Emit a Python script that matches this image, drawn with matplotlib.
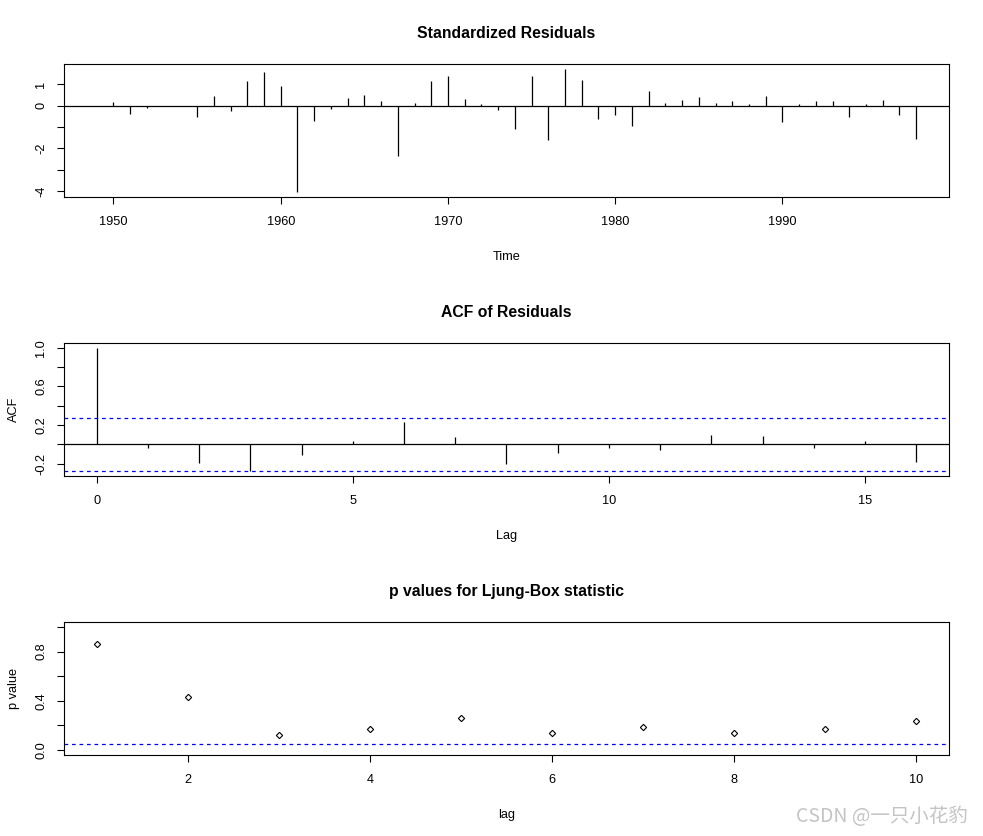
import numpy as np
import matplotlib
matplotlib.use("Agg")
from matplotlib import pyplot as plt

plt.rcParams['font.family'] = ['Liberation Sans', 'DejaVu Sans']

# standardized residuals, yearly
years = np.arange(1949, 1999)
resid = [0.0, 0.20, -0.37, -0.09, 0.01, -0.01, -0.51, 0.47, -0.23, 1.17,
         1.59, 0.93, -4.04, -0.70, -0.14, 0.37, 0.51, 0.23, -2.33, 0.11,
         1.17, 1.40, 0.33, 0.09, -0.19, -1.07, 1.40, -1.62, 1.73, 1.21,
         -0.61, -0.42, -0.93, 0.70, 0.14, 0.28, 0.42, 0.14, 0.23, 0.09,
         0.47, -0.75, 0.09, 0.23, 0.23, -0.51, 0.09, 0.28, -0.42, -1.54]

# ACF of residuals
lags = list(range(17))
acf = [1.0, -0.04, -0.19, -0.28, -0.11, 0.03, 0.23, 0.076, -0.20, -0.09,
       -0.04, -0.06, 0.10, 0.083, -0.04, 0.03, -0.18]
clim = 1.96 / np.sqrt(50)

# Ljung-Box p values
lb_lag = list(range(1, 11))
pvals = [0.859, 0.427, 0.125, 0.174, 0.264, 0.141, 0.190, 0.141, 0.174, 0.239]

tick_fs = 9.2
title_fs = 11.3
lab_fs = 9.2

fig = plt.figure(figsize=(9.83, 8.36), dpi=100)
left, width, height = 0.0651, 0.9003, 0.1591
ax1 = fig.add_axes([left, 0.7644, width, height])
ax2 = fig.add_axes([left, 0.4306, width, height])
ax3 = fig.add_axes([left, 0.0969, width, height])


def style(ax):
    for s in ax.spines.values():
        s.set_linewidth(0.8)
    ax.tick_params(direction='out', length=5, width=0.8, labelsize=tick_fs, pad=7)
    ax.tick_params(axis='x', pad=9)
    ax.tick_params(axis='y', labelrotation=90)
    for t in ax.get_yticklabels():
        t.set_va('center')


# panel 1
ax1.vlines(years, 0, resid, color='black', lw=0.9)
ax1.axhline(0, color='black', lw=0.9)
ax1.set_xlim(1947.04, 1999.96)
ax1.set_ylim(-4.27, 1.96)
ax1.set_xticks([1950, 1960, 1970, 1980, 1990])
ax1.set_yticks([-4, -3, -2, -1, 0, 1])
ax1.set_yticklabels(['-4', '', '-2', '', '0', '1'])
ax1.set_title('Standardized Residuals', fontsize=title_fs, fontweight='bold', pad=19)
ax1.set_xlabel('Time', fontsize=lab_fs, labelpad=16)
style(ax1)

# panel 2
ax2.vlines(lags, 0, acf, color='black', lw=0.9)
ax2.axhline(0, color='black', lw=0.9)
ax2.axhline(clim, color='blue', lw=0.9, ls=(0, (3, 3)))
ax2.axhline(-clim, color='blue', lw=0.9, ls=(0, (3, 3)))
ax2.set_xlim(-0.64, 16.64)
ax2.set_ylim(-0.329, 1.051)
ax2.set_xticks([0, 5, 10, 15])
ax2.set_yticks([-0.2, 0.0, 0.2, 0.4, 0.6, 0.8, 1.0])
ax2.set_yticklabels(['-0.2', '', '0.2', '', '0.6', '', '1.0'])
ax2.set_title('ACF of Residuals', fontsize=title_fs, fontweight='bold', pad=19)
ax2.set_xlabel('Lag', fontsize=lab_fs, labelpad=16)
ax2.set_ylabel('ACF', fontsize=lab_fs, labelpad=11)
style(ax2)

# panel 3
ax3.plot(lb_lag, pvals, ls='none', marker='D', ms=3.2, mfc='none', mec='black', mew=0.8)
ax3.axhline(0.05, color='blue', lw=0.9, ls=(0, (3, 3)))
ax3.set_xlim(0.64, 10.36)
ax3.set_ylim(-0.04, 1.04)
ax3.set_xticks([2, 4, 6, 8, 10])
ax3.set_yticks([0.0, 0.2, 0.4, 0.6, 0.8, 1.0])
ax3.set_yticklabels(['0.0', '', '0.4', '', '0.8', ''])
ax3.set_title('p values for Ljung-Box statistic', fontsize=title_fs, fontweight='bold', pad=19)
ax3.set_xlabel('lag', fontsize=lab_fs, labelpad=16)
ax3.set_ylabel('p value', fontsize=lab_fs, labelpad=11)
style(ax3)

fig.text(0.985, 0.011, 'CSDN @一只小花豹', ha='right', va='bottom', color='#c4c4c4',
         fontsize=14, family=['Noto Sans CJK SC', 'DejaVu Sans'])

fig.savefig('out.png', dpi=100)
